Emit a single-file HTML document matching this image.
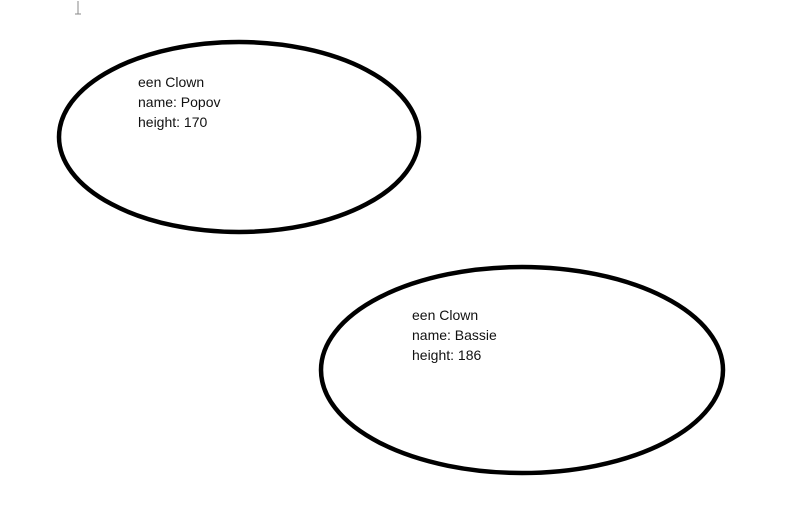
<!DOCTYPE html>
<html><head><meta charset="utf-8"><style>
html,body{margin:0;padding:0;background:#fff;width:797px;height:507px;overflow:hidden}
</style></head><body>
<svg width="797" height="507" xmlns="http://www.w3.org/2000/svg" font-family="Liberation Sans, sans-serif" font-size="14" fill="#111">
<line x1="78" y1="1" x2="78" y2="14" stroke="#888" stroke-width="1"/>
<line x1="75" y1="14" x2="81" y2="14" stroke="#888" stroke-width="1"/>
<ellipse cx="239" cy="137" rx="180" ry="95" fill="none" stroke="#000" stroke-width="4.5"/>
<ellipse cx="522" cy="370" rx="201" ry="103" fill="none" stroke="#000" stroke-width="4.5"/>
<text x="138" y="87">een Clown</text>
<text x="138" y="107">name: Popov</text>
<text x="138" y="127">height: 170</text>
<text x="412" y="320">een Clown</text>
<text x="412" y="340">name: Bassie</text>
<text x="412" y="360">height: 186</text>
</svg>
</body></html>
